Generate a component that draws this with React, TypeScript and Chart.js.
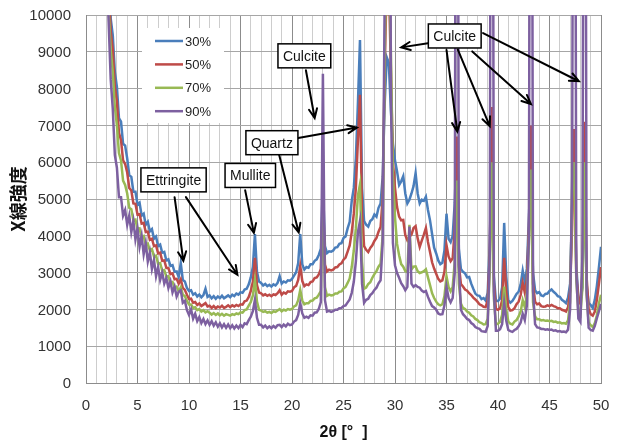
import React, { useEffect, useRef } from 'react';
import { Chart, registerables } from 'chart.js';

Chart.register(...registerables);

// Diffraction angle 2θ (degrees), one reading every 0.2°
const twoTheta: number[] = [
  2.0, 2.2, 2.4, 2.6, 2.8, 3.0, 3.2, 3.4, 3.6, 3.8,
  4.0, 4.2, 4.4, 4.6, 4.8, 5.0, 5.2, 5.4, 5.6, 5.8,
  6.0, 6.2, 6.4, 6.6, 6.8, 7.0, 7.2, 7.4, 7.6, 7.8,
  8.0, 8.2, 8.4, 8.6, 8.8, 9.0, 9.2, 9.4, 9.6, 9.8,
  10.0, 10.2, 10.4, 10.6, 10.8, 11.0, 11.2, 11.4, 11.6, 11.8,
  12.0, 12.2, 12.4, 12.6, 12.8, 13.0, 13.2, 13.4, 13.6, 13.8,
  14.0, 14.2, 14.4, 14.6, 14.8, 15.0, 15.2, 15.4, 15.6, 15.8,
  16.0, 16.2, 16.4, 16.6, 16.8, 17.0, 17.2, 17.4, 17.6, 17.8,
  18.0, 18.2, 18.4, 18.6, 18.8, 19.0, 19.2, 19.4, 19.6, 19.8,
  20.0, 20.2, 20.4, 20.6, 20.8, 21.0, 21.2, 21.4, 21.6, 21.8,
  22.0, 22.2, 22.4, 22.6, 22.8, 23.0, 23.2, 23.4, 23.6, 23.8,
  24.0, 24.2, 24.4, 24.6, 24.8, 25.0, 25.2, 25.4, 25.6, 25.8,
  26.0, 26.2, 26.4, 26.6, 26.8, 27.0, 27.2, 27.4, 27.6, 27.8,
  28.0, 28.2, 28.4, 28.6, 28.8, 29.0, 29.2, 29.4, 29.6, 29.8,
  30.0, 30.2, 30.4, 30.6, 30.8, 31.0, 31.2, 31.4, 31.6, 31.8,
  32.0, 32.2, 32.4, 32.6, 32.8, 33.0, 33.2, 33.4, 33.6, 33.8,
  34.0, 34.2, 34.4, 34.6, 34.8, 35.0, 35.2, 35.4, 35.6, 35.8,
  36.0, 36.2, 36.4, 36.6, 36.8, 37.0, 37.2, 37.4, 37.6, 37.8,
  38.0, 38.2, 38.4, 38.6, 38.8, 39.0, 39.2, 39.4, 39.6, 39.8,
  40.0, 40.2, 40.4, 40.6, 40.8, 41.0, 41.2, 41.4, 41.6, 41.8,
  42.0, 42.2, 42.4, 42.6, 42.8, 43.0, 43.2, 43.4, 43.6, 43.8,
  44.0, 44.2, 44.4, 44.6, 44.8, 45.0, 45.2, 45.4, 45.6, 45.8,
  46.0, 46.2, 46.4, 46.6, 46.8, 47.0, 47.2, 47.4, 47.6, 47.8,
  48.0, 48.2, 48.4, 48.6, 48.8, 49.0, 49.2, 49.4, 49.6, 49.8,
  50.0,
];

// X-ray intensity (counts) for each replacement ratio
const int30: number[] = [
  15000, 11200, 9900, 9450, 8450, 8050, 7200, 7100, 6500, 6450,
  6100, 5650, 5600, 5200, 5200, 4850, 4900, 4550, 4600, 4300,
  4380, 4120, 4180, 3920, 3980, 3720, 3760, 3540, 3560, 3330,
  3360, 3180, 3200, 3020, 3030, 2880, 3260, 2800, 2760, 2580,
  2500, 2520, 2400, 2440, 2350, 2400, 2330, 2390, 2560, 2340,
  2380, 2300, 2360, 2290, 2350, 2310, 2370, 2300, 2340, 2380,
  2330, 2400, 2360, 2430, 2400, 2470, 2450, 2540, 2560, 2680,
  2870, 3150, 4050, 3020, 2760, 2720, 2650, 2690, 2630, 2670,
  2620, 2680, 2650, 2720, 2900, 2700, 2760, 2730, 2790, 2780,
  2830, 2920, 3010, 3250, 4050, 3220, 3080, 3150, 3130, 3230,
  3230, 3320, 3360, 3480, 3650, 5400, 3720, 3530, 3580, 3570,
  3600, 3680, 3690, 3780, 3800, 3940, 3980, 4200, 4380, 4950,
  5300, 6100, 7600, 9320, 5300, 4400, 4300, 4250, 4400, 4450,
  4580, 4520, 4760, 4880, 5600, 7600, 8850, 8700, 7400, 6500,
  6050, 5750, 5380, 5480, 5620, 5150, 4880, 4980, 5150, 5350,
  5700, 5150, 4880, 4980, 4950, 5060, 4700, 4420, 4050, 3680,
  3520, 3330, 3230, 3270, 3600, 4600, 3920, 3830, 4000, 4900,
  6500, 3650, 3100, 3020, 2980, 2870, 2880, 2700, 2560, 2430,
  2380, 2370, 2280, 2310, 2240, 2450, 3800, 6000, 2900, 2230,
  2230, 2290, 2600, 4350, 2900, 2250, 2180, 2230, 2320, 2420,
  2480, 2680, 3050, 2740, 3100, 4500, 6000, 3000, 2520, 2440,
  2470, 2380, 2360, 2420, 2430, 2500, 2540, 2480, 2430, 2360,
  2340, 2260, 2220, 2170, 2320, 2700, 4800, 6000, 3200, 2330,
  2220, 2600, 6000, 2700, 2180, 2120, 2040, 2260, 2640, 3150,
  3700,
];

const int50: number[] = [
  14000, 10700, 9550, 9050, 8050, 7650, 6800, 6600, 6050, 5950,
  5720, 5300, 5230, 4880, 4870, 4580, 4590, 4330, 4350, 4100,
  4110, 3890, 3920, 3720, 3740, 3520, 3540, 3320, 3330, 3130,
  3120, 2960, 2980, 2820, 2830, 2700, 2820, 2580, 2530, 2400,
  2280, 2290, 2180, 2200, 2120, 2160, 2090, 2130, 2170, 2080,
  2100, 2040, 2090, 2030, 2080, 2050, 2100, 2040, 2070, 2110,
  2060, 2110, 2080, 2120, 2090, 2140, 2130, 2220, 2240, 2340,
  2500, 2750, 3400, 2660, 2460, 2440, 2380, 2410, 2370, 2400,
  2360, 2410, 2390, 2440, 2520, 2400, 2460, 2430, 2490, 2480,
  2500, 2600, 2640, 2800, 3180, 2770, 2630, 2680, 2660, 2740,
  2760, 2850, 2870, 2950, 3100, 5200, 3220, 3030, 3080, 3060,
  3080, 3140, 3150, 3220, 3250, 3350, 3410, 3570, 3740, 4100,
  4600, 5300, 6600, 7830, 4600, 3720, 3620, 3560, 3670, 3740,
  3860, 3940, 4110, 4240, 5000, 8500, 11000, 11000, 8500, 6000,
  5300, 4780, 4520, 4420, 4430, 4020, 3880, 3970, 4030, 4210,
  4260, 3930, 3700, 3870, 4030, 4210, 3830, 3560, 3280, 3110,
  2970, 2830, 2760, 2790, 3020, 3750, 3440, 3310, 3390, 4200,
  6700, 3200, 2690, 2620, 2540, 2510, 2440, 2390, 2320, 2270,
  2210, 2140, 2110, 2070, 2060, 2250, 3500, 7500, 2700, 2010,
  1990, 2030, 2250, 3400, 2480, 2060, 1970, 1980, 2030, 2140,
  2210, 2390, 2720, 2460, 2800, 4200, 7000, 2700, 2210, 2140,
  2160, 2090, 2070, 2080, 2110, 2090, 2120, 2090, 2070, 2030,
  2030, 1990, 1970, 1940, 2060, 2500, 4300, 6900, 3000, 2250,
  2150, 3000, 7100, 2900, 2010, 1870, 1830, 1940, 2260, 2700,
  3150,
];

const int70: number[] = [
  13000, 10100, 9050, 8450, 7500, 7000, 6250, 6050, 5500, 5380,
  5150, 4760, 4720, 4420, 4440, 4180, 4200, 3950, 3990, 3760,
  3790, 3600, 3640, 3440, 3460, 3240, 3260, 3050, 3070, 2890,
  2900, 2740, 2750, 2600, 2620, 2490, 2600, 2400, 2360, 2230,
  2130, 2130, 2040, 2060, 1980, 2010, 1940, 1980, 1920, 1950,
  1910, 1860, 1900, 1850, 1890, 1840, 1880, 1830, 1870, 1850,
  1830, 1870, 1850, 1890, 1870, 1920, 1910, 1980, 2000, 2100,
  2200, 2380, 2800, 2210, 1990, 1970, 1930, 1950, 1910, 1930,
  1900, 1950, 1930, 1970, 2010, 1950, 1990, 1970, 2010, 1990,
  2010, 2080, 2110, 2250, 2530, 2240, 2140, 2170, 2170, 2230,
  2240, 2300, 2320, 2400, 2500, 5000, 2600, 2370, 2400, 2380,
  2390, 2430, 2430, 2480, 2490, 2570, 2610, 2720, 2840, 3150,
  3600, 4200, 5100, 5400, 3300, 2560, 2590, 2690, 2740, 2860,
  2960, 3040, 3160, 3240, 4000, 9000, 12000, 12000, 9000, 5600,
  4500, 3780, 3470, 3230, 3160, 3040, 3010, 4300, 3090, 3160,
  3170, 3040, 2990, 3010, 3040, 3090, 2870, 2660, 2440, 2310,
  2210, 2140, 2110, 2140, 2360, 2900, 2610, 2490, 2610, 3300,
  5500, 2700, 2160, 2040, 2010, 1940, 1910, 1840, 1810, 1740,
  1710, 1650, 1630, 1590, 1600, 1750, 3000, 6000, 2300, 1590,
  1610, 1660, 1850, 2620, 2000, 1670, 1610, 1590, 1670, 1710,
  1810, 1940, 2250, 2060, 2400, 3800, 5800, 2200, 1810, 1730,
  1730, 1700, 1710, 1690, 1700, 1680, 1690, 1660, 1670, 1640,
  1650, 1620, 1630, 1610, 1700, 2200, 5240, 6000, 2800, 1950,
  1860, 2600, 6000, 2400, 1640, 1570, 1520, 1630, 1840, 2160,
  2400,
];

const int90: number[] = [
  12000, 9800, 8250, 7450, 6200, 5850, 5050, 5050, 4550, 4700,
  4300, 4550, 4100, 4400, 3900, 4200, 3700, 4000, 3500, 3800,
  3300, 3550, 3100, 3350, 2900, 3150, 2800, 3000, 2700, 2850,
  2580, 2760, 2460, 2620, 2350, 2480, 2520, 2180, 2230, 1980,
  1850, 2000, 1750, 1880, 1680, 1790, 1630, 1740, 1600, 1700,
  1580, 1680, 1560, 1650, 1530, 1620, 1510, 1600, 1500, 1590,
  1490, 1570, 1480, 1560, 1490, 1580, 1520, 1620, 1600, 1710,
  1800, 1950, 2260, 1770, 1580, 1580, 1510, 1560, 1490, 1540,
  1490, 1550, 1500, 1570, 1580, 1520, 1590, 1540, 1610, 1570,
  1590, 1670, 1710, 1850, 2170, 1890, 1770, 1800, 1770, 1840,
  1830, 1910, 1920, 2010, 2200, 8400, 2250, 1940, 1960, 1930,
  1950, 1990, 1990, 2030, 2040, 2090, 2110, 2190, 2270, 2450,
  2750, 3300, 4100, 4400, 2700, 2180, 2260, 2290, 2390, 2440,
  2530, 2590, 2710, 2790, 3800, 10500, 20000, 25000, 8000, 3800,
  3200, 2990, 2860, 2710, 2630, 2520, 2610, 4250, 2700, 2610,
  2660, 2610, 2590, 2510, 2470, 2500, 2340, 2210, 2090, 2050,
  1990, 1890, 1860, 1870, 2110, 2620, 2310, 2190, 2310, 3000,
  30000, 3200, 1990, 1870, 1810, 1740, 1710, 1630, 1590, 1520,
  1490, 1470, 1410, 1400, 1390, 1550, 3500, 30000, 2500, 1420,
  1420, 1460, 1600, 2170, 1700, 1440, 1410, 1390, 1440, 1470,
  1540, 1640, 1880, 1710, 2100, 4000, 30000, 2500, 1600, 1510,
  1500, 1470, 1470, 1450, 1460, 1440, 1450, 1420, 1430, 1400,
  1410, 1390, 1400, 1380, 1450, 2000, 5600, 30000, 3000, 1750,
  1660, 3500, 30000, 2500, 1500, 1440, 1420, 1550, 1760, 1950,
  2150,
];

const seriesNames: string[] = ['30%', '50%', '70%', '90%'];
const seriesValues: number[][] = [int30, int50, int70, int90];
const seriesColors: string[] = ['#4a7ebb', '#be4b48', '#98b954', '#7d60a0'];

// Axis ranges and tick labels
const xRange: [number, number] = [0, 50];
const xMinorStep = 1;
const xTickLabels: number[] = [0, 5, 10, 15, 20, 25, 30, 35, 40, 45, 50];
const yRange: [number, number] = [0, 10000];
const yStep = 1000;
const yTickLabels: number[] = [0, 1000, 2000, 3000, 4000, 5000, 6000, 7000, 8000, 9000, 10000];

const xTitle = '2θ [°  ]';
const yTitle = 'X線強度';

// Phase callouts: box centre and arrow start/end, all in (2θ, counts)
type Pt = [number, number];
const callouts: { text: string; at: Pt; arrows: [Pt, Pt][] }[] = [
  { text: 'Ettringite', at: [8.5, 5520], arrows: [[[8.6, 5050], [9.45, 3320]], [[9.7, 5050], [14.7, 2940]]] },
  { text: 'Mullite', at: [15.95, 5640], arrows: [[[15.45, 5240], [16.3, 4080]]] },
  { text: 'Quartz', at: [18.05, 6530], arrows: [[[20.6, 6660], [26.3, 6940]], [[18.75, 6200], [20.65, 4090]]] },
  { text: 'Culcite', at: [21.2, 8890], arrows: [[[21.35, 8500], [22.2, 7200]]] },
  {
    text: 'Culcite',
    at: [35.8, 9430],
    arrows: [
      [[33.2, 9230], [30.6, 9120]],
      [[35.0, 9050], [36.05, 6830]],
      [[36.1, 9060], [39.2, 6980]],
      [[37.5, 9010], [43.2, 7580]],
      [[38.55, 9510], [47.85, 8200]],
    ],
  },
];

const FONT = '"Liberation Sans", Arial, sans-serif';

const overlayPlugin = {
  id: 'xrdOverlay',
  afterDatasetsDraw(chart: any) {
    const { ctx, chartArea, scales } = chart;
    const sx = scales.x;
    const sy = scales.y;
    const px = (p: Pt): Pt => [sx.getPixelForValue(p[0]), sy.getPixelForValue(p[1])];
    ctx.save();

    // tick labels
    ctx.fillStyle = '#333';
    ctx.font = `15px ${FONT}`;
    ctx.textBaseline = 'middle';
    ctx.textAlign = 'right';
    for (const v of yTickLabels) {
      ctx.fillText(String(v), chartArea.left - 15, sy.getPixelForValue(v) + 1);
    }
    ctx.textAlign = 'center';
    for (const v of xTickLabels) {
      ctx.fillText(String(v), sx.getPixelForValue(v), chartArea.bottom + 23);
    }

    // legend panel
    const lx = chartArea.left + 56;
    const ly = chartArea.top + 13;
    ctx.fillStyle = '#ffffff';
    ctx.fillRect(lx, ly, 82, 95);
    ctx.font = `13px ${FONT}`;
    ctx.textBaseline = 'middle';
    ctx.textAlign = 'left';
    seriesNames.forEach((name, i) => {
      const y = ly + 13 + i * 23.4;
      ctx.strokeStyle = seriesColors[i];
      ctx.lineWidth = 2.5;
      ctx.beginPath();
      ctx.moveTo(lx + 13, y);
      ctx.lineTo(lx + 41, y);
      ctx.stroke();
      ctx.fillStyle = '#222';
      ctx.fillText(name, lx + 43, y + 1);
    });

    // arrows
    ctx.strokeStyle = '#000';
    ctx.lineWidth = 2;
    ctx.lineCap = 'round';
    for (const c of callouts) {
      for (const [a, b] of c.arrows) {
        const [x1, y1] = px(a);
        const [x2, y2] = px(b);
        const ang = Math.atan2(y2 - y1, x2 - x1);
        ctx.beginPath();
        ctx.moveTo(x1, y1);
        ctx.lineTo(x2, y2);
        ctx.moveTo(x2 - 10 * Math.cos(ang - 0.42), y2 - 10 * Math.sin(ang - 0.42));
        ctx.lineTo(x2, y2);
        ctx.lineTo(x2 - 10 * Math.cos(ang + 0.42), y2 - 10 * Math.sin(ang + 0.42));
        ctx.stroke();
      }
    }

    // label boxes
    ctx.font = `14px ${FONT}`;
    ctx.textAlign = 'center';
    ctx.textBaseline = 'middle';
    ctx.lineWidth = 1.5;
    for (const c of callouts) {
      const [cx, cy] = px(c.at);
      const w = ctx.measureText(c.text).width + 10;
      const h = 24;
      ctx.fillStyle = '#fff';
      ctx.fillRect(cx - w / 2, cy - h / 2, w, h);
      ctx.strokeRect(cx - w / 2, cy - h / 2, w, h);
      ctx.fillStyle = '#111';
      ctx.fillText(c.text, cx, cy + 1);
    }

    // axis titles
    ctx.fillStyle = '#111';
    ctx.font = `bold 16px ${FONT}`;
    ctx.fillText(xTitle, (chartArea.left + chartArea.right) / 2, 433);
    ctx.save();
    ctx.translate(18, (chartArea.top + chartArea.bottom) / 2);
    ctx.rotate(-Math.PI / 2);
    ctx.font = 'bold 18px "Noto Sans CJK JP", sans-serif';
    ctx.fillText(yTitle, 0, 0);
    ctx.restore();

    ctx.restore();
  },
};

export default function App() {
  const canvasRef = useRef<HTMLCanvasElement>(null);

  useEffect(() => {
    const canvas = canvasRef.current;
    if (!canvas) return;
    const order = [3, 2, 1, 0];
    const chart = new Chart(canvas, {
      type: 'line',
      data: {
        datasets: seriesValues.map((vals, i) => ({
          label: seriesNames[i],
          data: twoTheta.map((x, j) => ({ x, y: vals[j] })),
          borderColor: seriesColors[i],
          backgroundColor: seriesColors[i],
          borderWidth: 2.5,
          pointRadius: 0,
          tension: 0,
          order: order[i],
        })),
      },
      options: {
        animation: false,
        responsive: false,
        events: [],
        layout: { padding: { top: 15, right: 17, left: 0, bottom: 0 } },
        plugins: {
          legend: { display: false },
          tooltip: { enabled: false },
        },
        scales: {
          x: {
            type: 'linear',
            min: xRange[0],
            max: xRange[1],
            afterFit: (s: any) => {
              s.height = 60;
            },
            border: { color: '#8c8c8c' },
            grid: {
              drawTicks: false,
              color: (c: any) => (c.tick && c.tick.value % 5 === 0 ? '#8c8c8c' : '#cdcdcd'),
            },
            ticks: { display: false, stepSize: xMinorStep, autoSkip: false, maxRotation: 0 },
          },
          y: {
            min: yRange[0],
            max: yRange[1],
            afterFit: (s: any) => {
              s.width = 86;
            },
            border: { color: '#8c8c8c' },
            grid: { drawTicks: false, color: '#a6a6a6' },
            ticks: { display: false, stepSize: yStep },
          },
        },
      },
      plugins: [overlayPlugin],
    });
    return () => chart.destroy();
  }, []);

  return (
    <div style={{ position: 'fixed', left: 0, top: 0, width: 618, height: 443, background: '#fff' }}>
      <canvas ref={canvasRef} width={618} height={443} style={{ display: 'block' }} />
    </div>
  );
}
